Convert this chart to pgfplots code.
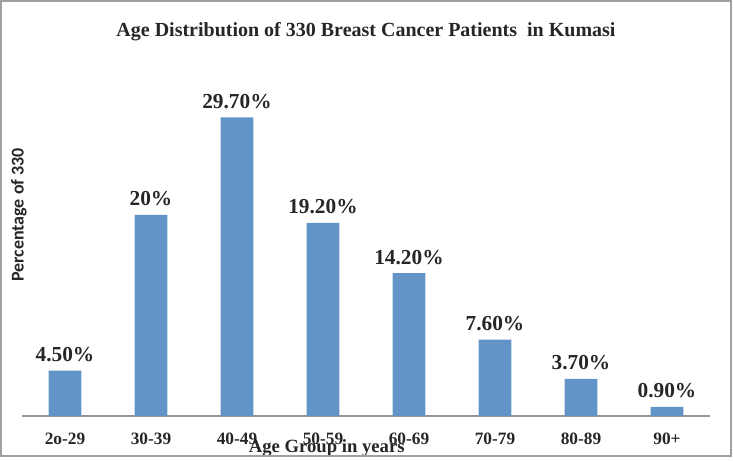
\documentclass[border=0pt]{standalone}
\usepackage{pgfplots}
\pgfplotsset{compat=1.18}
\usepackage{fontspec}
\setmainfont{Liberation Serif}
\newfontfamily\carlito{Carlito}
\definecolor{barblue}{RGB}{99,148,200}
\definecolor{framegray}{RGB}{160,160,160}
\definecolor{axgray}{RGB}{150,150,150}
\definecolor{txt}{RGB}{38,38,38}
\begin{document}
\begin{tikzpicture}
\fill[white] (0,0) rectangle (549.75pt,344.25pt);
\begin{axis}[
  at={(16.5pt,32.25pt)}, anchor=south west,
  scale only axis, width=516pt, height=264pt,
  ybar, bar width=0.38, bar shift=0pt,
  xmin=-0.5, xmax=7.5, ymin=0, ymax=35,
  axis x line*=bottom, axis y line*=left,
  x axis line style={draw=axgray, line width=0.8pt},
  y axis line style={draw=none},
  ytick=\empty,
  xtick={0,...,7},
  xticklabels={2o-29,30-39,40-49,50-59,60-69,70-79,80-89,90+},
  major tick length=0pt,
  xticklabel style={font=\fontsize{13}{15}\selectfont\bfseries, text=txt, yshift=-9pt},
  xlabel={Age Group in years},
  xlabel style={at={(axis description cs:0.443,0)}, anchor=center, yshift=-24pt, font=\fontsize{14}{16}\selectfont\bfseries, text=txt},
  ylabel={Percentage of 330},
  ylabel style={at={(axis description cs:-0.0044,0.571)}, anchor=center, font=\carlito\fontsize{13.5}{15}\selectfont\bfseries, text=txt},
  title={Age Distribution of 330 Breast Cancer Patients\ \ in Kumasi},
  title style={at={(axis description cs:0.5,1)}, anchor=center, yshift=18.5pt, font=\fontsize{15}{18}\selectfont\bfseries, text=txt},
  nodes near coords,
  point meta=explicit symbolic,
  every node near coord/.append style={font=\fontsize{16}{18}\selectfont\bfseries, text=txt, anchor=south, yshift=3pt},
  clip=false,
]
\addplot[fill=barblue, draw=none] coordinates {
  (0,4.5) [4.50\%]
  (1,20) [20\%]
  (2,29.7) [29.70\%]
  (3,19.2) [19.20\%]
  (4,14.2) [14.20\%]
  (5,7.6) [7.60\%]
  (6,3.7) [3.70\%]
  (7,0.9) [0.90\%]
};
\end{axis}
\draw[framegray, line width=1.5pt] (0.75pt,2pt) rectangle (548pt,343.5pt);
\end{tikzpicture}
\end{document}
